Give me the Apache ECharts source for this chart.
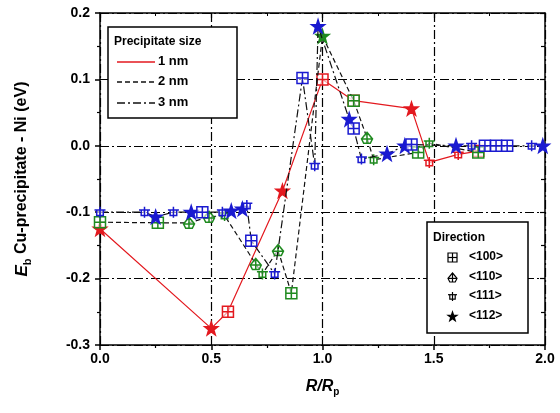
<!DOCTYPE html>
<html>
<head>
<meta charset="utf-8">
<script src="https://cdn.jsdelivr.net/npm/echarts@6/dist/echarts.min.js"></script>
<style>html,body{margin:0;padding:0;background:#fff;}#c{width:560px;height:413px;}</style>
</head>
<body>
<div id="c"></div>
<script>
// ---- data ----
const xTicks = [0, 0.5, 1.0, 1.5, 2.0];
const yTicks = [-0.3, -0.2, -0.1, 0.0, 0.1, 0.2];
const sizeNames = ['1 nm', '2 nm', '3 nm'];
const directionNames = ['<100>', '<110>', '<111>', '<112>'];

// 1 nm precipitate
const r1_x = [0, 0.5, 0.575, 0.82, 1.0, 1.14, 1.40, 1.48, 1.61, 1.70];
const r1_y = [-0.125, -0.275, -0.25, -0.068, 0.1, 0.068, 0.056, -0.025, -0.013, -0.008];
const r1_dir = ['<112>','<112>','<100>','<112>','<100>','<100>','<112>','<111>','<111>','<100>'];

// 2 nm precipitate
const r2_x = [0, 0.26, 0.40, 0.49, 0.56, 0.70, 0.73, 0.80, 0.86, 1.0, 1.14, 1.20, 1.23, 1.43, 1.48, 1.70];
const r2_y = [-0.115, -0.116, -0.116, -0.107, -0.105, -0.178, -0.193, -0.157, -0.222, 0.165, 0.068, 0.012, -0.021, -0.01, 0.004, -0.01];
const r2_dir = ['<100>','<100>','<110>','<110>','<111>','<110>','<111>','<110>','<100>','<112>','<100>','<110>','<111>','<100>','<111>','<100>'];

// 3 nm precipitate
const r3_x = [0, 0.20, 0.25, 0.33, 0.41, 0.46, 0.55, 0.59, 0.64, 0.66, 0.68, 0.785, 0.91, 0.965, 0.98, 1.12, 1.14, 1.175, 1.29, 1.37, 1.40, 1.60, 1.67, 1.73, 1.78, 1.83, 1.94, 1.99];
const r3_y = [-0.1, -0.1, -0.107, -0.1, -0.1, -0.1, -0.1, -0.098, -0.095, -0.09, -0.143, -0.193, 0.102, -0.03, 0.18, 0.04, 0.026, -0.02, -0.012, 0.0, 0.002, 0.0, 0.0, 0.0, 0.0, 0.0, 0.0, 0.0];
const r3_dir = ['<111>','<111>','<112>','<111>','<112>','<100>','<111>','<112>','<112>','<111>','<100>','<111>','<100>','<111>','<112>','<112>','<100>','<111>','<112>','<112>','<100>','<112>','<111>','<100>','<100>','<100>','<111>','<112>'];

// ---- styling ----
const FONT = 'Liberation Sans';
const colors = ['#e3191f', '#1f8a1f', '#1a1ad0'];
const lineColors = ['#e3191f', '#111', '#111'];
const lineTypes = ['solid', [5, 3], [8, 3, 2, 3]];

// marker glyphs in a 10x10 box
const STAR = [[5,0],[6.2,3.6],[10,3.6],[7,5.9],[8.1,9.6],[5,7.4],[1.9,9.6],[3,5.9],[0,3.6],[3.8,3.6]];
const SYM_PARTS = {
  '<100>': [{pts: [[0,0],[10,0],[10,10],[0,10]], closed: true}, {pts: [[5,0],[5,10]]}, {pts: [[0,5],[10,5]]}],
  '<110>': [{pts: [[5,0],[10,6],[8,10],[2,10],[0,6]], closed: true}, {pts: [[5,0],[5,10]]}, {pts: [[0,6],[10,6]]}],
  '<111>': [{pts: [[5,0],[5,10]]}, {pts: [[0,3],[10,3]]}, {pts: [[2,3],[2,8],[8,8],[8,3]]}],
  '<112>': [{pts: STAR, closed: true, filled: true}]
};
function symPath(d) {
  return 'path://' + SYM_PARTS[d].map(p =>
    'M' + p.pts.map(q => q[0] + ',' + q[1]).join('L') + (p.closed ? 'Z' : '')).join(' ');
}

function mk(xs, ys, dirs, c) {
  return xs.map((x, i) => ({
    value: [x, ys[i]],
    symbol: symPath(dirs[i]),
    symbolSize: dirs[i] === '<112>' ? 13 : 11,
    itemStyle: {
      color: dirs[i] === '<112>' ? c : 'rgba(255,255,255,0.6)',
      borderColor: c,
      borderWidth: 1.5
    }
  }));
}

const seriesData = [
  mk(r1_x, r1_y, r1_dir, colors[0]),
  mk(r2_x, r2_y, r2_dir, colors[1]),
  mk(r3_x, r3_y, r3_dir, colors[2])
];

const chart = echarts.init(document.getElementById('c'), null, {renderer: 'canvas'});

const gridLine = {show: true, lineStyle: {color: '#000', type: [9, 3, 2, 3], width: 1.2}};
const axisLineS = {show: true, onZero: false, lineStyle: {color: '#000', width: 1.5}};
const lblStyle = {fontFamily: FONT, fontWeight: 'bold', fontSize: 14, color: '#000'};

function legendGraphics() {
  const g = [];
  // size legend
  g.push({type: 'rect', z: 100, shape: {x: 108, y: 27, width: 129, height: 91},
    style: {fill: '#fff', stroke: '#000', lineWidth: 1.5}});
  g.push({type: 'text', x: 114, y: 36, z: 101,
    style: {text: 'Precipitate size', font: 'bold 12px ' + FONT, fill: '#000'}});
  const ys = [62, 82, 103];
  sizeNames.forEach((n, i) => {
    g.push({type: 'line', z: 101, shape: {x1: 117, y1: ys[i], x2: 155, y2: ys[i]},
      style: {stroke: lineColors[i], lineWidth: 1.3, lineDash: lineTypes[i] === 'solid' ? null : lineTypes[i]}});
    g.push({type: 'text', x: 158, y: ys[i] - 7, z: 101,
      style: {text: n, font: 'bold 13px ' + FONT, fill: '#000'}});
  });
  // direction legend
  g.push({type: 'rect', z: 100, shape: {x: 427, y: 222, width: 101, height: 111},
    style: {fill: '#fff', stroke: '#000', lineWidth: 1.5}});
  g.push({type: 'text', x: 433, y: 232, z: 101,
    style: {text: 'Direction', font: 'bold 12px ' + FONT, fill: '#000'}});
  const dy = [258, 278, 297, 317];
  directionNames.forEach((d, i) => {
    const ox = 448, oy = dy[i] - 5, sc = 0.9;
    SYM_PARTS[d].forEach(p => {
      const pts = p.pts.map(q => [ox + q[0] * sc, oy + q[1] * sc]);
      g.push({type: p.closed ? 'polygon' : 'polyline', z: 101,
        shape: {points: pts},
        style: {fill: p.filled ? '#000' : (p.closed ? '#fff' : null), stroke: '#000', lineWidth: 1.2}});
    });
    g.push({type: 'text', x: 469, y: dy[i] - 7, z: 101,
      style: {text: d, font: 'bold 12px ' + FONT, fill: '#000'}});
  });
  return g;
}

chart.setOption({
  animation: false,
  backgroundColor: '#fff',
  grid: {left: 100, right: 15, top: 13, bottom: 68},
  xAxis: [{
    type: 'value', min: xTicks[0], max: xTicks[xTicks.length - 1], interval: 0.5, position: 'bottom',
    axisLine: axisLineS,
    axisTick: {show: true, inside: false, length: 5, lineStyle: {color: '#000', width: 1.5}},
    minorTick: {show: true, splitNumber: 2, length: 3, lineStyle: {color: '#000', width: 1.2}},
    axisLabel: Object.assign({formatter: v => v.toFixed(1), margin: 7}, lblStyle),
    splitLine: gridLine,
    name: '{i|R/R}{s|p}', nameLocation: 'middle', nameGap: 31,
    nameTextStyle: {rich: {
      i: {fontFamily: FONT, fontWeight: 'bold', fontStyle: 'italic', fontSize: 16, color: '#000'},
      s: {fontFamily: FONT, fontWeight: 'bold', fontSize: 10, color: '#000', padding: [11, 0, 0, 0]}
    }}
  }, {
    type: 'value', min: xTicks[0], max: xTicks[xTicks.length - 1], interval: 0.5, position: 'top',
    axisLine: axisLineS,
    axisTick: {show: true, inside: true, length: 5, lineStyle: {color: '#000', width: 1.2}},
    minorTick: {show: true, splitNumber: 2, length: 3, lineStyle: {color: '#000'}},
    axisLabel: {show: false}, splitLine: {show: false}
  }],
  yAxis: [{
    type: 'value', min: yTicks[0], max: yTicks[yTicks.length - 1], interval: 0.1, position: 'left',
    axisLine: axisLineS,
    axisTick: {show: true, inside: false, length: 5, lineStyle: {color: '#000', width: 1.5}},
    minorTick: {show: true, splitNumber: 2, length: 3, lineStyle: {color: '#000', width: 1.2}},
    axisLabel: Object.assign({formatter: v => v.toFixed(1), margin: 10}, lblStyle),
    splitLine: gridLine,
    name: '{i|E}{s|b} Cu-precipitate - Ni (eV)', nameLocation: 'middle', nameGap: 67, nameRotate: 90,
    nameTextStyle: {rich: {
      i: {fontFamily: FONT, fontWeight: 'bold', fontStyle: 'italic', fontSize: 17, color: '#000'},
      s: {fontFamily: FONT, fontWeight: 'bold', fontSize: 11, color: '#000', padding: [11, 0, 0, 0]}
    }, fontFamily: FONT, fontWeight: 'bold', fontSize: 16, color: '#000'}
  }, {
    type: 'value', min: yTicks[0], max: yTicks[yTicks.length - 1], interval: 0.1, position: 'right',
    axisLine: axisLineS,
    axisTick: {show: true, inside: true, length: 5, lineStyle: {color: '#000', width: 1.2}},
    minorTick: {show: true, splitNumber: 2, length: 4, lineStyle: {color: '#000', width: 1.2}},
    axisLabel: {show: false}, splitLine: {show: false}
  }],
  graphic: legendGraphics(),
  series: seriesData.map((d, i) => ({
    name: sizeNames[i], type: 'line', xAxisIndex: 0, yAxisIndex: 0,
    data: d,
    lineStyle: {color: lineColors[i], width: 1.2, type: lineTypes[i]},
    itemStyle: {color: colors[i]},
    z: 3 + i
  }))
});
</script>
</body>
</html>
